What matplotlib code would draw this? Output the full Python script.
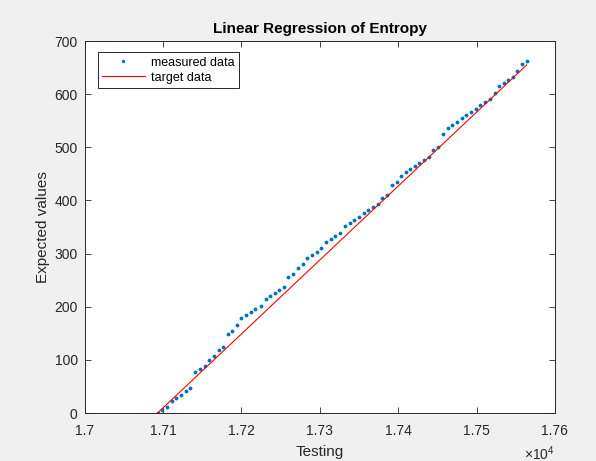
import numpy as np
import matplotlib
matplotlib.use("Agg")
import matplotlib.pyplot as plt
from matplotlib.ticker import FuncFormatter, MultipleLocator

# measured points (testing value, expected value)
measured_x = [17093, 17099, 17105, 17111, 17117, 17123, 17129, 17135, 17141, 17147,
              17153, 17159, 17165, 17171, 17177, 17183, 17188, 17195, 17200, 17206,
              17212, 17218, 17225, 17231, 17237, 17243, 17248, 17254, 17260, 17266,
              17272, 17278, 17284, 17290, 17296, 17302, 17308, 17314, 17320, 17326,
              17332, 17338, 17344, 17350, 17356, 17362, 17368, 17374, 17380, 17386,
              17392, 17398, 17404, 17410, 17415, 17421, 17427, 17433, 17439, 17445,
              17451, 17457, 17463, 17469, 17475, 17481, 17487, 17493, 17499, 17505,
              17511, 17517, 17523, 17529, 17535, 17540, 17546, 17552, 17558, 17564]
measured_y = [0, 5.6, 10.7, 23.1, 28.8, 34.4, 40.8, 46.5, 76.6, 82.8,
              88.4, 100.3, 106.7, 118.5, 124.2, 148.1, 154.3, 166.2, 179.0, 183.8,
              190.1, 195.7, 201.9, 213.9, 219.6, 225.8, 231.4, 237.7, 255.3, 261.6,
              273.4, 279.8, 291.7, 297.9, 303.5, 309.9, 321.8, 327.4, 333.6, 339.3,
              351.5, 357.5, 363.7, 369.4, 375.8, 381.4, 387.6, 393.3, 405.1, 410.8,
              429.0, 434.7, 446.5, 452.9, 458.6, 464.8, 470.4, 476.6, 482.3, 494.3,
              500.5, 524.6, 536.7, 542.5, 548.5, 555.1, 560.7, 567.0, 572.6, 579.0,
              584.6, 590.9, 602.7, 614.8, 620.4, 626.6, 632.3, 644.1, 656.7, 662.4]

# fitted line end points
target_x = [17093, 17564]
target_y = [0, 655]

plt.rcParams['font.family'] = ['Liberation Sans', 'DejaVu Sans']
plt.rcParams['mathtext.fontset'] = 'custom'
plt.rcParams['mathtext.rm'] = 'Liberation Sans'

axcol = '#262626'
fig = plt.figure(figsize=(5.96, 4.61), dpi=100, facecolor='#f0f0f0')
ax = fig.add_axes([0.142, 0.104, 0.789, 0.807])
ax.set_facecolor('white')

ax.plot(measured_x, measured_y, '.', color='#0072BD', markersize=3.5, label='measured data')
ax.plot(target_x, target_y, '-', color='red', linewidth=0.8, label='target data')

ax.set_xlim(17000, 17600)
ax.set_ylim(0, 700)
ax.xaxis.set_major_locator(MultipleLocator(100))
ax.yaxis.set_major_locator(MultipleLocator(100))
ax.xaxis.set_major_formatter(FuncFormatter(lambda v, p: ('%.2f' % (v / 1e4)).rstrip('0')))

ax.tick_params(direction='in', length=4, width=0.6, colors=axcol, labelsize=10,
               top=True, right=True, pad=5)
ax.tick_params(axis='x', pad=8)
for s in ax.spines.values():
    s.set_color(axcol)
    s.set_linewidth(0.7)

ax.set_title('Linear Regression of Entropy', fontsize=11, fontweight='bold', color='black', pad=6)
ax.set_xlabel('Testing', fontsize=11, color=axcol, labelpad=5)
ax.set_ylabel('Expected values', fontsize=11, color=axcol, labelpad=3)
ax.text(1.0, -0.108, r'$\times\mathregular{10^4}$', transform=ax.transAxes,
        ha='right', va='center', fontsize=10, color=axcol)

leg = ax.legend(loc='upper left', bbox_to_anchor=(0.028, 0.97), fontsize=9,
                frameon=True, fancybox=False, framealpha=1, edgecolor=axcol,
                handlelength=3.4, borderpad=0.35, labelspacing=0.25, handletextpad=0.5,
                borderaxespad=0, markerscale=0.8)
leg.get_frame().set_linewidth(0.7)

fig.savefig('out.png', dpi=100, facecolor=fig.get_facecolor())
